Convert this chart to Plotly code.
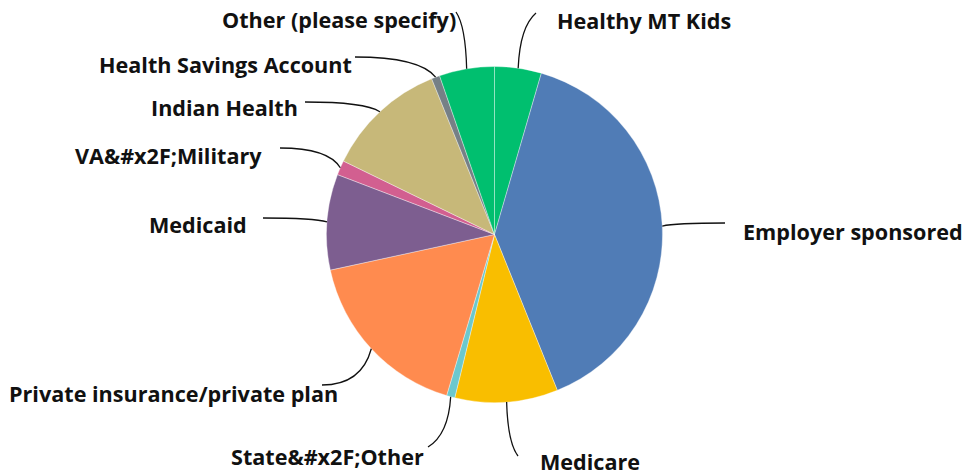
import math
import plotly.graph_objects as go

W, H = 966, 475

labels = ["Healthy MT Kids", "Employer sponsored", "Medicare", "State&#x2F;Other",
          "Private insurance/private plan", "Medicaid", "VA&#x2F;Military",
          "Indian Health", "Health Savings Account", "Other (please specify)"]
values = [4.5, 39.4, 9.9, 0.8, 17.0, 9.2, 1.4, 11.7, 0.8, 5.3]
colors = ["#00BF6F", "#507CB6", "#F9BE00", "#6BC8CD", "#FF8B4F",
          "#7D5E90", "#D25F90", "#C7B879", "#768086", "#00BF6F"]

# label placement in pixels: text x, text y, anchor, line start x, line start y, line style
label_pos = {
    "Healthy MT Kids": (555, 20, "left", 536, 13, "v"),
    "Employer sponsored": (741, 232, "left", 725, 223, "h"),
    "Medicare": (538, 461, "left", 518, 456, "v"),
    "State&#x2F;Other": (426, 456, "right", 428, 447, "v"),
    "Private insurance/private plan": (340, 393, "right", 322, 385, "h"),
    "Medicaid": (249, 225, "right", 263, 218, "h"),
    "VA&#x2F;Military": (264, 155, "right", 280, 148, "h"),
    "Indian Health": (300, 108, "right", 305, 102, "h"),
    "Health Savings Account": (354, 64, "right", 355, 57, "h"),
    "Other (please specify)": (458, 19, "right", 456, 12, "v"),
}

cx, cy, r = 494.5, 234.5, 168

fig = go.Figure(go.Pie(
    labels=labels,
    values=values,
    sort=False,
    direction="clockwise",
    rotation=0,
    textinfo="none",
    hoverinfo="label+percent",
    marker=dict(colors=colors, line=dict(color="rgba(255,255,255,0.6)", width=0.6)),
    domain=dict(x=[(cx - r) / W, (cx + r) / W], y=[1 - (cy + r) / H, 1 - (cy - r) / H]),
    showlegend=False,
))

total = sum(values)
cum = 0
shapes = []
annotations = []
for lab, v in zip(labels, values):
    mid = (cum + v / 2) / total * 2 * math.pi
    cum += v
    ex = cx + r * math.sin(mid)
    ey = cy - r * math.cos(mid)
    tx, ty, anchor, sx, sy, style = label_pos[lab]
    if style == "h":
        ctrl = (ex - (ex - sx) * 0.2, sy)
    else:
        ctrl = (sx - (sx - ex) * 0.9, sy + (ey - sy) * 0.25)
    px = lambda x: x / W
    py = lambda y: 1 - y / H
    path = f"M {px(sx)},{py(sy)} Q {px(ctrl[0])},{py(ctrl[1])} {px(ex)},{py(ey)}"
    shapes.append(dict(type="path", xref="paper", yref="paper", path=path,
                       line=dict(color="#111111", width=1.3)))
    annotations.append(dict(
        text=lab.replace("&#", "&amp;#"), x=px(tx), y=py(ty), xref="paper", yref="paper",
        xanchor=anchor, yanchor="middle", showarrow=False,
        font=dict(family="Open Sans", size=21.6, color="#111111", weight=700),
    ))

fig.update_layout(
    width=W, height=H,
    margin=dict(l=0, r=0, t=0, b=0),
    paper_bgcolor="white",
    plot_bgcolor="white",
    shapes=shapes,
    annotations=annotations,
)

fig.write_html("out.html", config={"displayModeBar": False},
               post_script="document.body.style.margin='0';")
